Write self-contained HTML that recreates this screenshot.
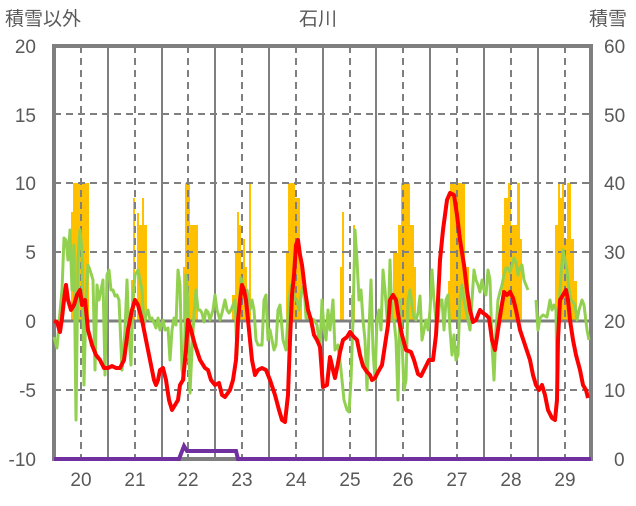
<!DOCTYPE html>
<html><head><meta charset="utf-8"><style>
body{margin:0;background:#fff;}
svg text{font-family:"Liberation Sans","Noto Sans CJK JP",sans-serif;fill:#595959;font-size:19px;}
</style></head><body>
<svg width="636" height="501" viewBox="0 0 636 501" xmlns="http://www.w3.org/2000/svg">
<text x="5" y="25">積雪以外</text>
<text x="318" y="25" text-anchor="middle">石川</text>
<text x="589" y="25">積雪</text>
<g text-anchor="end">
<text x="36" y="53">20</text><text x="36" y="122">15</text><text x="36" y="190">10</text>
<text x="36" y="259">5</text><text x="36" y="328">0</text><text x="36" y="397">-5</text><text x="36" y="466">-10</text>
</g>
<g>
<text x="604" y="53">60</text><text x="604" y="122">50</text><text x="604" y="190">40</text>
<text x="604" y="259">30</text><text x="604" y="328">20</text><text x="604" y="397">10</text><text x="614" y="466">0</text>
</g>
<g text-anchor="middle">
<text x="81" y="486">20</text><text x="135" y="486">21</text><text x="188" y="486">22</text><text x="242" y="486">23</text><text x="296" y="486">24</text><text x="350" y="486">25</text><text x="403" y="486">26</text><text x="457" y="486">27</text><text x="511" y="486">28</text><text x="565" y="486">29</text>
</g>
<g fill="#ffc000">
<rect x="71" y="212" width="2" height="109"/><rect x="73" y="183" width="16" height="138"/>
<rect x="131" y="280" width="2" height="41"/><rect x="133" y="198" width="2" height="123"/><rect x="137" y="213" width="2" height="108"/><rect x="139" y="225" width="3" height="96"/><rect x="142" y="198" width="2" height="123"/><rect x="144" y="225" width="3" height="96"/>
<rect x="183" y="267" width="2" height="54"/><rect x="185" y="183" width="5" height="138"/><rect x="190" y="225" width="8" height="96"/>
<rect x="232" y="295" width="3" height="26"/><rect x="235" y="253" width="2" height="68"/><rect x="237" y="212" width="2" height="109"/><rect x="239" y="225" width="2" height="96"/><rect x="241" y="267" width="2" height="54"/><rect x="243" y="239" width="2" height="82"/><rect x="245" y="267" width="2" height="54"/><rect x="249" y="183" width="2" height="138"/>
<rect x="286" y="253" width="2" height="68"/><rect x="288" y="183" width="7" height="138"/><rect x="295" y="198" width="5" height="123"/><rect x="300" y="267" width="2" height="54"/>
<rect x="340" y="267" width="2" height="54"/><rect x="342" y="212" width="2" height="109"/><rect x="351" y="295" width="2" height="26"/><rect x="353" y="225" width="2" height="96"/>
<rect x="393" y="253" width="5" height="68"/><rect x="398" y="225" width="3" height="96"/><rect x="401" y="183" width="9" height="138"/><rect x="410" y="225" width="4" height="96"/><rect x="414" y="267" width="2" height="54"/>
<rect x="448" y="281" width="2" height="40"/><rect x="450" y="183" width="15" height="138"/><rect x="465" y="267" width="4" height="54"/>
<rect x="502" y="225" width="2" height="96"/><rect x="504" y="198" width="4" height="123"/><rect x="508" y="183" width="3" height="138"/><rect x="511" y="225" width="6" height="96"/><rect x="517" y="183" width="3" height="138"/><rect x="520" y="239" width="2" height="82"/>
<rect x="555" y="225" width="3" height="96"/><rect x="558" y="183" width="2" height="138"/><rect x="560" y="198" width="2" height="123"/><rect x="562" y="183" width="2" height="138"/><rect x="564" y="239" width="3" height="82"/><rect x="567" y="183" width="4" height="138"/><rect x="571" y="239" width="3" height="82"/><rect x="574" y="281" width="3" height="40"/>
</g>
<g stroke="#7f7f7f" stroke-width="2" stroke-dasharray="7,5" fill="none">
<path d="M54 114H591M54 183H591M54 252H591M54 390H591"/>
<path d="M81 46V459M135 46V459M188 46V459M242 46V459M296 46V459M350 46V459M403 46V459M457 46V459M511 46V459M565 46V459"/>
</g>
<g stroke="#7f7f7f" stroke-width="2"><path d="M108 46V459M162 46V459M215 46V459M269 46V459M323 46V459M376 46V459M430 46V459M484 46V459M538 46V459"/></g>
<path d="M54 321H591" stroke="#7f7f7f" stroke-width="3"/>
<rect x="54" y="46" width="537" height="413" fill="none" stroke="#7f7f7f" stroke-width="4"/>
<polyline fill="none" stroke="#92d050" stroke-width="3" stroke-linejoin="round" points="54,337 57,348 60,312 62,290 64,238 66,240 68,260 70,230 72,290 74,245 76,420 78,260 80,230 82,250 84,385 86,300 88,265 90,270 93,280 95,370 97,285 99,300 101,290 103,280 105,375 107,275 109,270 111,290 113,290 115,296 117,295 119,300 122,370 125,330 127,280 129,335 131,365 133,300 135,275 138,270 140,280 142,290 144,325 146,315 148,310 150,320 152,318 154,323 156,328 158,318 160,330 163,320 165,330 168,328 170,360 172,330 174,318 176,325 178,270 180,285 182,370 184,380 186,275 188,300 190,393 192,350 194,315 196,290 198,310 200,310 202,313 204,322 206,310 208,312 210,320 213,310 215,295 217,310 220,320 222,313 225,300 227,310 229,313 231,310 233,305 235,300 237,355 239,310 241,278 243,285 245,300 247,290 250,310 252,300 254,310 256,340 258,345 260,345 262,345 264,300 266,295 268,340 270,330 272,340 274,350 276,345 278,310 280,305 283,340 286,350 289,300 291,285 293,290 295,300 297,300 299,310 302,290 304,285 306,318 310,318 314,320 317,325 320,348 322,300 324,330 326,340 328,310 330,330 333,300 335,350 338,345 341,370 344,400 347,410 349,412 351,380 353,320 355,230 357,260 359,300 361,290 363,320 365,340 367,390 369,330 371,280 373,350 375,380 377,320 379,310 381,330 383,270 385,290 388,330 390,260 392,320 394,320 396,340 398,400 400,300 402,340 404,390 406,380 408,300 410,290 412,305 414,318 416,320 418,313 420,296 422,340 424,330 426,320 428,330 430,310 432,270 434,300 436,320 438,320 440,300 442,300 444,330 446,300 448,295 450,330 452,355 454,335 456,360 458,355 460,300 462,285 464,300 466,310 468,320 470,330 472,300 474,270 476,280 478,285 480,292 482,280 484,290 486,295 488,270 490,280 492,345 494,380 496,330 498,300 500,292 502,285 504,275 506,268 508,268 510,272 512,265 514,258 516,262 518,275 520,268 522,265 524,280 526,285 528,290"/>
<polyline fill="none" stroke="#92d050" stroke-width="3" stroke-linejoin="round" points="536,300 538,330 540,318 543,315 547,317 550,300 552,310 554,305 556,310 557,380 559,310 561,275 563,250 565,260 567,270 569,290 571,300 573,302 575,305 577,320 579,310 582,300 584,305 587,330 589,340"/>
<polyline fill="none" stroke="#ff0000" stroke-width="4" stroke-linejoin="round" points="54,321 57,322 60,332 62,318 64,300 66,285 68,300 71,310 74,305 77,295 80,290 82,305 85,300 88,330 92,345 96,355 100,360 104,368 108,368 112,366 116,368 120,368 124,360 128,330 132,310 135,300 138,305 142,320 145,335 150,360 154,380 156,385 158,380 160,370 163,368 166,380 169,400 172,410 175,405 178,400 180,385 183,380 186,350 188,320 191,330 195,345 200,360 205,368 208,370 211,380 215,385 219,383 222,395 225,397 230,390 233,380 236,360 238,320 240,300 242,285 244,290 246,300 249,330 252,360 255,375 258,370 262,368 266,370 270,380 275,395 279,410 282,420 285,422 288,395 290,340 292,295 294,275 296,245 298,240 300,255 302,265 305,290 308,310 311,320 314,335 317,340 320,347 323,387 327,385 330,357 333,370 335,378 338,363 340,352 343,340 347,337 350,332 353,336 357,340 360,355 363,366 367,372 370,375 372,380 375,378 378,372 382,365 385,345 388,325 390,300 393,295 396,300 399,320 402,335 406,350 411,352 414,360 418,374 421,376 425,368 429,360 433,360 436,335 438,300 440,260 443,230 447,200 450,193 454,195 457,215 460,240 464,265 467,290 470,310 473,322 476,320 480,310 483,313 486,315 489,318 492,340 495,350 498,330 501,310 504,292 507,295 510,292 513,298 516,310 520,330 525,345 530,360 533,375 536,385 539,390 542,385 545,395 548,410 552,418 555,420 557,400 558,340 560,300 563,295 566,290 568,300 570,320 573,340 576,355 580,370 583,385 586,390 588,398"/>
<polyline fill="none" stroke="#7030a0" stroke-width="4" points="54,459 179,459 184,446 187,451 236,451 238,459 591,459"/>
</svg>
</body></html>
